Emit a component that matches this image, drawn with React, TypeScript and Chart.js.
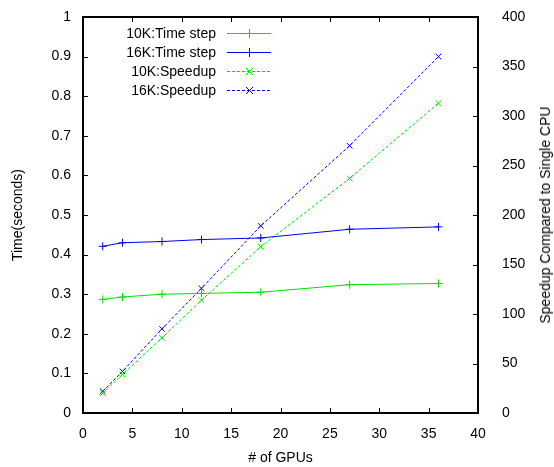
import React, { useEffect, useRef, useState } from "react";
import { Chart, registerables } from "chart.js";

Chart.register(...registerables);

const gpus = [2, 4, 8, 12, 18, 27, 36];
const time10K = [0.287, 0.293, 0.3, 0.302, 0.305, 0.324, 0.327];
const time16K = [0.421, 0.43, 0.433, 0.438, 0.442, 0.464, 0.47];
const speed10K = [20, 39, 76, 114, 168, 237, 313];
const speed16K = [22, 42, 85, 126, 189, 270, 360];
const seriesLabels = ["10K:Time step", "16K:Time step", "10K:Speedup", "16K:Speedup"];

const xTitle = "# of GPUs";
const yTitle = "Time(seconds)";
const y2Title = "Speedup Compared to Single CPU";

const FONT = "'Liberation Sans', Arial, Helvetica, sans-serif";
const GREEN = "#00e000";
const BLUE = "#0000f0";

const legendPlugin = {
  id: "gnuLegend",
  afterDraw(chart: any) {
    const ctx: CanvasRenderingContext2D = chart.ctx;
    const a = chart.chartArea;
    ctx.save();
    ctx.font = `14px ${FONT}`;
    ctx.textAlign = "right";
    ctx.textBaseline = "middle";
    chart.data.datasets.forEach((ds: any, i: number) => {
      const yi = Math.round(a.top + 15.5 + i * 19);
      const y = yi + 0.5;
      ctx.fillStyle = "#000";
      ctx.fillText(ds.label, 216, y + 1);
      ctx.strokeStyle = ds.borderColor;
      ctx.lineWidth = 1;
      ctx.setLineDash(ds.borderDash || []);
      ctx.beginPath();
      ctx.moveTo(227, y);
      ctx.lineTo(271, y);
      ctx.stroke();
      ctx.setLineDash([]);
      ctx.fillStyle = ds.borderColor;
      const cx = 249;
      if (ds.pointStyle === "cross") {
        ctx.fillRect(cx - 4, yi, 9, 1);
        ctx.fillRect(cx, yi - 4, 1, 9);
      } else {
        for (let k = -3; k <= 3; k++) {
          ctx.fillRect(cx + k, yi + k, 1, 1);
          ctx.fillRect(cx + k, yi - k, 1, 1);
        }
      }
    });
    ctx.restore();
  },
};

const fmt = (v: any) => String(Number(Number(v).toFixed(2)));

type Geo = { L: number; T: number; R: number; B: number; xt: number[]; yt: number[]; y2t: number[] };

export default function App() {
  const ref = useRef<HTMLCanvasElement>(null);
  const [geo, setGeo] = useState<Geo | null>(null);
  useEffect(() => {
    if (!ref.current) return;
    const pts = (ys: number[]) => gpus.map((x, i) => ({ x, y: ys[i] }));
    const mk = (label: string, ys: number[], color: string, axis: string, style: string, dash: number[]) => ({
      label,
      data: pts(ys),
      yAxisID: axis,
      borderColor: color,
      backgroundColor: color,
      borderWidth: 1,
      borderDash: dash,
      pointStyle: style,
      pointRadius: 4,
      pointBorderWidth: 1,
      pointBorderColor: color,
      tension: 0,
      fill: false,
    });
    const frame = { display: true, color: "#000", width: 2 };
    const tickFont = { family: FONT, size: 14 };
    const noPad = (s: any) => { s.paddingTop = 0; s.paddingBottom = 0; };
    const chart = new Chart(ref.current, {
      type: "line",
      data: {
        datasets: [
          mk(seriesLabels[0], time10K, GREEN, "y", "cross", []),
          mk(seriesLabels[1], time16K, BLUE, "y", "cross", []),
          mk(seriesLabels[2], speed10K, GREEN, "y2", "crossRot", [3, 2]),
          mk(seriesLabels[3], speed16K, BLUE, "y2", "crossRot", [3, 2]),
        ] as any,
      },
      options: {
        animation: false,
        responsive: false,
        layout: { padding: { top: 17, left: 0, right: 0, bottom: 0 } },
        plugins: { legend: { display: false }, tooltip: { enabled: false } },
        scales: {
          x: {
            type: "linear",
            position: "bottom",
            min: 0,
            max: 40,
            grid: { display: false },
            border: frame,
            ticks: { stepSize: 5, padding: 5, color: "#000", font: tickFont, maxRotation: 0, callback: fmt },
            title: { display: true, text: xTitle, color: "#000", font: tickFont, padding: { top: 0, bottom: 0 } },
            afterFit: (s: any) => { s.height = 54; },
          },
          y: {
            type: "linear",
            position: "left",
            min: 0,
            max: 1,
            grid: { display: false },
            border: frame,
            ticks: { stepSize: 0.1, padding: 4, color: "#000", font: tickFont, callback: fmt },
            title: { display: true, text: yTitle, color: "#000", font: tickFont, padding: { top: 10, bottom: 0 } },
            afterFit: (s: any) => { s.width = 83; noPad(s); },
          },
          y2: {
            type: "linear",
            position: "right",
            min: 0,
            max: 400,
            grid: { display: false },
            border: frame,
            ticks: { stepSize: 50, padding: 16, color: "#000", font: tickFont, callback: fmt },
            afterFit: (s: any) => { s.width = 76; noPad(s); },
          },
        },
      } as any,
      plugins: [legendPlugin],
    });
    const a = chart.chartArea;
    const sx: any = chart.scales.x;
    const sy: any = chart.scales.y;
    const sy2: any = chart.scales.y2;
    setGeo({
      L: Math.round(a.left),
      T: Math.round(a.top),
      R: Math.round(a.right),
      B: Math.round(a.bottom),
      xt: sx.ticks.map((t: any) => Math.round(sx.getPixelForValue(t.value))),
      yt: sy.ticks.map((t: any) => Math.round(sy.getPixelForValue(t.value))),
      y2t: sy2.ticks.map((t: any) => Math.round(sy2.getPixelForValue(t.value))),
    });
    return () => chart.destroy();
  }, []);

  const TL = 5;
  const tick = (left: number, top: number, w: number, h: number, key: string) => (
    <div key={key} style={{ position: "absolute", left, top, width: w, height: h, background: "#000" }} />
  );

  return (
    <div style={{ position: "absolute", left: 0, top: 0, width: 554, height: 467, background: "#fff" }}>
      <canvas ref={ref} width={554} height={467} style={{ position: "absolute", left: 0, top: 0 }} />
      {geo && (
        <>
          <div
            style={{
              position: "absolute",
              left: geo.L - 1,
              top: geo.T - 1,
              width: geo.R - geo.L + 2,
              height: geo.B - geo.T + 2,
              border: "2px solid #000",
              boxSizing: "border-box",
            }}
          />
          {geo.xt.map((px, i) => tick(px, geo.B - TL, 1, TL, "xb" + i))}
          {geo.xt.map((px, i) => tick(px, geo.T, 1, TL, "xt" + i))}
          {geo.yt.map((py, i) => tick(geo.L, py, TL, 1, "yl" + i))}
          {geo.y2t.map((py, i) => tick(geo.R - TL, py, TL, 1, "yr" + i))}
        </>
      )}
      <div
        style={{
          position: "absolute",
          left: 545,
          top: 215,
          transform: "translate(-50%, -50%) rotate(-90deg)",
          whiteSpace: "nowrap",
          fontFamily: FONT,
          fontSize: 14,
          lineHeight: "16px",
          color: "#000",
        }}
      >
        {y2Title}
      </div>
    </div>
  );
}
